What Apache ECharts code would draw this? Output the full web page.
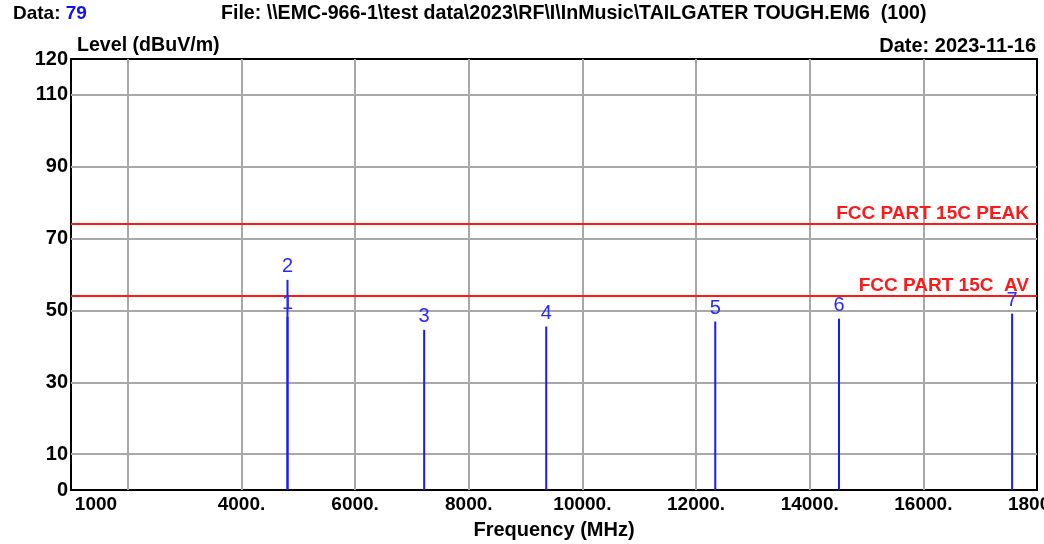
<!DOCTYPE html>
<html><head><meta charset="utf-8">
<script src="https://cdn.jsdelivr.net/npm/echarts@6/dist/echarts.min.js"></script>
<style>html,body{margin:0;padding:0;background:#fff}#c{width:1044px;height:544px}</style>
</head><body><div id="c"></div>
<script>
// Data
const markers = ['1', '2', '3', '4', '5', '6', '7'];
const freqs = [4810, 4810, 7215, 9363, 12338, 14516, 17562];   // MHz
const levels = [48.2, 58.5, 44.6, 45.5, 46.9, 47.7, 49.1];     // dBuV/m
const limitNames = ['FCC PART 15C PEAK', 'FCC PART 15C  AV'];
const limitValues = [74, 54];
const yGridValues = [10, 30, 50, 70, 90, 110];
const xGridValues = [2000, 4000, 6000, 8000, 10000, 12000, 14000, 16000];
const yTickLabels = [0, 10, 30, 50, 70, 90, 110, 120];
const xTickLabels = [1000, 4000, 6000, 8000, 10000, 12000, 14000, 16000, 18000];

const FONT = 'Liberation Sans, Arial, sans-serif';
const chart = echarts.init(document.getElementById('c'), null, {renderer: 'canvas'});

const spikeData = freqs.map((f, i) => ({value: [f, levels[i]], name: markers[i]}));
const bold = (size, color) => ({fontFamily: FONT, fontWeight: 'bold', fontSize: size, color: color || '#000'});

const option = {
  backgroundColor: '#fff',
  animation: false,
  title: [
    {left: 8, top: -1, text: '{b|Data: }{v|79}',
     textStyle: {rich: {b: bold(19), v: bold(19, '#1010ff')}}},
    {left: 216, top: -1, text: 'File: \\\\EMC-966-1\\test data\\2023\\RF\\I\\InMusic\\TAILGATER TOUGH.EM6  (100)',
     textStyle: bold(19.6)},
    {left: 72, top: 31, text: 'Level (dBuV/m)', textStyle: bold(19.6)},
    {right: 3, top: 31, text: 'Date: 2023-11-16', textStyle: bold(20)}
  ],
  grid: {left: 71, right: 7, top: 59, bottom: 54, show: true, borderColor: '#000', borderWidth: 2,
         backgroundColor: 'transparent', containLabel: false, outerBoundsMode: 'none'},
  xAxis: {
    type: 'value', min: 1000, max: 18000, interval: 1000,
    name: 'Frequency (MHz)', nameLocation: 'middle', nameGap: 30,
    nameTextStyle: bold(20),
    axisLine: {show: true, lineStyle: {color: '#000', width: 2}},
    axisTick: {show: false},
    splitLine: {show: false},
    axisLabel: Object.assign(bold(19), {
      margin: 5, showMinLabel: true, showMaxLabel: true, hideOverlap: false,
      formatter: v => {
        if (!xTickLabels.includes(v)) return '';
        if (v === xTickLabels[0]) return '{a|' + v + '}';
        return v + '.';
      },
      rich: {a: Object.assign(bold(19), {padding: [0, 0, 0, 50]})}
    })
  },
  yAxis: {
    type: 'value', min: 0, max: 120, interval: 10,
    axisLine: {show: true, lineStyle: {color: '#000', width: 2}},
    axisTick: {show: false},
    splitLine: {show: false},
    axisLabel: Object.assign(bold(20), {
      margin: 3, showMinLabel: true, showMaxLabel: true, hideOverlap: false,
      formatter: v => yTickLabels.includes(v) ? String(v) : ''
    })
  },
  series: [
    {
      type: 'line', data: [], silent: true, z: 1,
      markLine: {
        silent: true, symbol: 'none', animation: false,
        label: {show: false},
        lineStyle: {color: '#a8a8a8', width: 2, type: 'solid'},
        data: yGridValues.map(v => ({yAxis: v})).concat(xGridValues.map(v => ({xAxis: v})))
      }
    },
    {
      type: 'line', data: [], silent: true, z: 2,
      markLine: {
        silent: true, symbol: 'none', animation: false,
        lineStyle: {color: '#ff1a1a', width: 2, type: 'solid'},
        label: Object.assign(bold(19, '#ff1a1a'), {show: true, position: 'insideEndTop', distance: [8, 1]}),
        data: limitValues.map((v, i) => ({yAxis: v, label: {formatter: limitNames[i]}}))
      }
    },
    {
      type: 'bar', z: 5, barWidth: 2, data: spikeData,
      itemStyle: {color: '#1a1aff'},
      label: {show: true, position: 'top', distance: 3, formatter: p => p.name,
              fontFamily: FONT, fontSize: 20, color: '#2a2aff'}
    }
  ]
};
chart.setOption(option);
</script>
</body></html>
